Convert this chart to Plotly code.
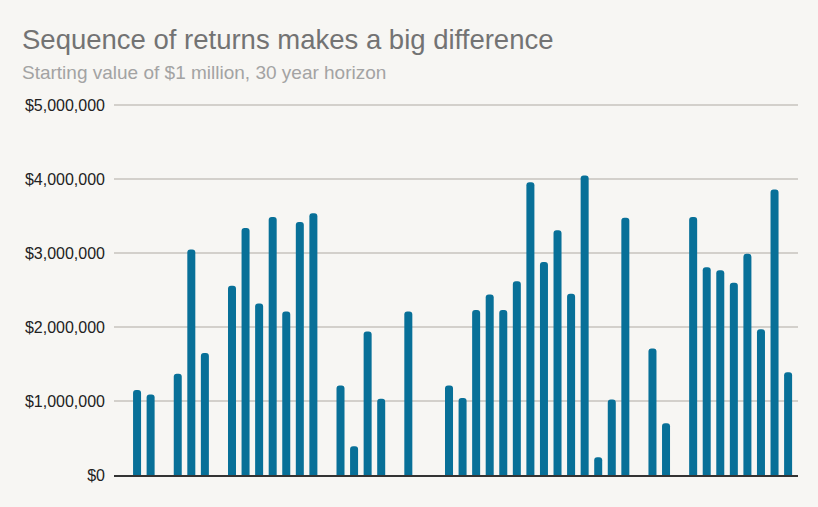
import plotly.graph_objects as go

# Ending portfolio value for each sequence (0 = no bar / depleted)
periods = list(range(1, 50))
ending_values = [
    1.15e6, 1.09e6, 0, 1.37e6, 3.05e6, 1.65e6, 0, 2.56e6, 3.34e6, 2.32e6,
    3.49e6, 2.21e6, 3.42e6, 3.54e6, 0, 1.21e6, 0.39e6, 1.94e6, 1.03e6, 0,
    2.21e6, 0, 0, 1.21e6, 1.04e6, 2.23e6, 2.44e6, 2.23e6, 2.62e6, 3.96e6,
    2.88e6, 3.31e6, 2.45e6, 4.05e6, 0.24e6, 1.02e6, 3.48e6, 0, 1.71e6, 0.70e6,
    0, 3.49e6, 2.81e6, 2.77e6, 2.60e6, 2.99e6, 1.97e6, 3.86e6, 1.39e6,
]
y_tickvals = [0, 1e6, 2e6, 3e6, 4e6, 5e6]
y_ticktext = ["$0", "$1,000,000", "$2,000,000", "$3,000,000", "$4,000,000", "$5,000,000"]

title_text = "Sequence of returns makes a big difference"
subtitle_text = "Starting value of $1 million, 30 year horizon"

BG = "#f7f6f3"
BAR = "#087098"

fig = go.Figure(
    go.Bar(
        x=periods,
        y=ending_values,
        marker=dict(color=BAR, line=dict(width=0), cornerradius=3),
        hovertemplate="%{y:$,.0f}<extra></extra>",
    )
)

W, H = 818, 507
y_top = 5.03e6
px_per_unit = 370 / 5e6
plot_h = y_top * px_per_unit
mb = 32
mt = H - mb - plot_h
ml, mr = 114, 20

fig.update_layout(
    width=W,
    height=H,
    margin=dict(l=ml, r=mr, t=mt, b=mb),
    paper_bgcolor=BG,
    plot_bgcolor=BG,
    bargap=0.41,
    showlegend=False,
    font=dict(family="Liberation Sans, Arial, sans-serif", color="#222222"),
    xaxis=dict(
        range=[periods[0] - 1.70, periods[-1] + 0.73],
        showticklabels=False,
        showgrid=False,
        zeroline=False,
        showline=True,
        linecolor="#333333",
        linewidth=1.5,
        ticks="",
        fixedrange=True,
    ),
    yaxis=dict(
        range=[0, y_top],
        tickvals=y_tickvals,
        ticktext=y_ticktext,
        showgrid=True,
        gridcolor="#d3d0cb",
        gridwidth=1.5,
        zeroline=False,
        showline=False,
        ticks="",
        tickfont=dict(size=16, color="#222222"),
        ticklabelstandoff=8,
        fixedrange=True,
    ),
    annotations=[
        dict(
            text=title_text,
            xref="paper", yref="paper",
            x=(20 - ml) / (W - ml - mr), y=1 + (mt - 39) / plot_h,
            xanchor="left", yanchor="middle",
            showarrow=False,
            font=dict(size=27.5, color="#737373", family="Liberation Sans, Arial, sans-serif"),
        ),
        dict(
            text=subtitle_text,
            xref="paper", yref="paper",
            x=(20 - ml) / (W - ml - mr), y=1 + (mt - 72) / plot_h,
            xanchor="left", yanchor="middle",
            showarrow=False,
            font=dict(size=19, color="#a3a3a3", family="Liberation Sans, Arial, sans-serif"),
        ),
    ],
)

fig.write_html("out.html")
